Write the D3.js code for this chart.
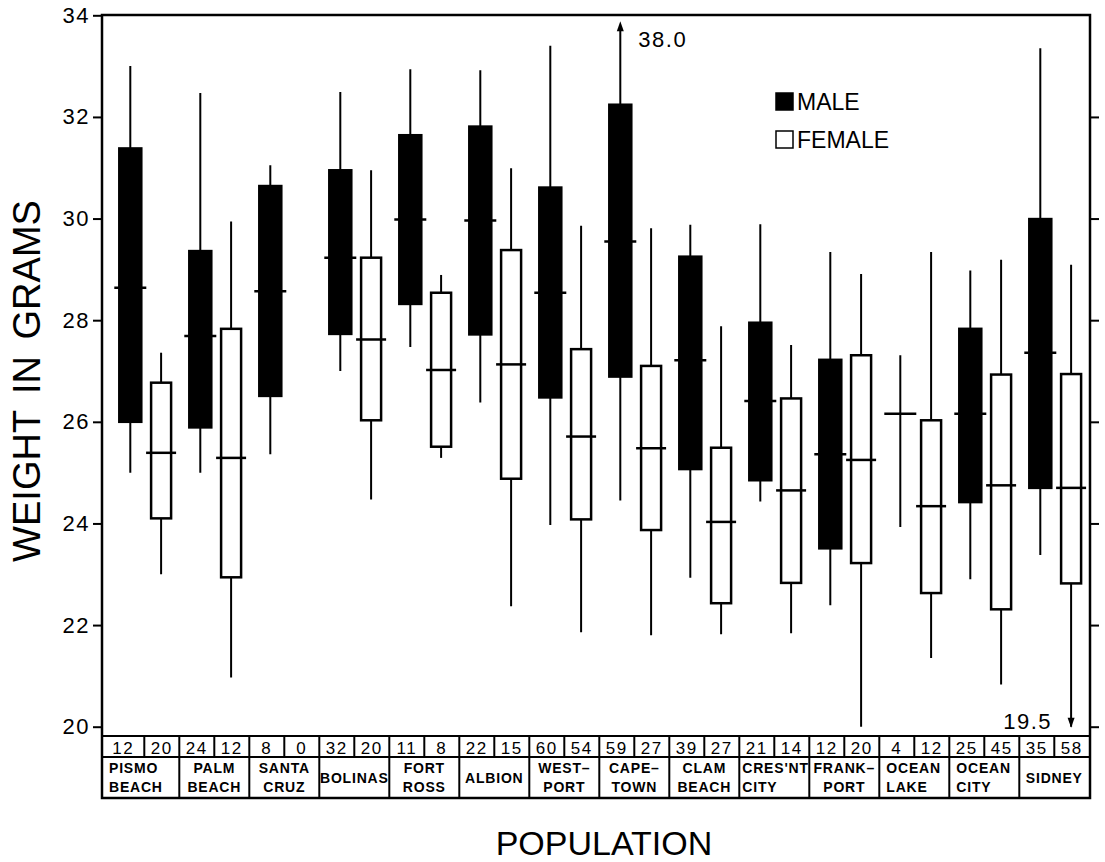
<!DOCTYPE html>
<html>
<head>
<meta charset="utf-8">
<script src="https://cdn.jsdelivr.net/npm/d3@7"></script>
<style>
  body { margin: 0; background: #fff; }
  svg text { font-family: "Liberation Sans", Arial, sans-serif; fill: #000; }
</style>
</head>
<body>
<div id="chart"></div>
<script>
// populations and their two-line table labels
var populations = ["PISMO BEACH", "PALM BEACH", "SANTA CRUZ", "BOLINAS", "FORT ROSS", "ALBION",
  "WEST-PORT", "CAPE-TOWN", "CLAM BEACH", "CRES'NT CITY", "FRANK-PORT", "OCEAN LAKE", "OCEAN CITY", "SIDNEY"];
var nameLines = [["PISMO", "BEACH"], ["PALM", "BEACH"], ["SANTA", "CRUZ"], ["BOLINAS"], ["FORT", "ROSS"],
  ["ALBION"], ["WEST–", "PORT"], ["CAPE–", "TOWN"], ["CLAM", "BEACH"], ["CRES'NT", "CITY"],
  ["FRANK–", "PORT"], ["OCEAN", "LAKE"], ["OCEAN", "CITY"], ["SIDNEY"]];

// sample sizes
var maleN   = [12, 24, 8, 32, 11, 22, 60, 59, 39, 21, 12, 4, 25, 35];
var femaleN = [20, 12, 0, 20, 8, 15, 54, 27, 27, 14, 20, 12, 45, 58];

// male weights (g)
var maleMin = [25.0, 25.0, 25.36, 27.0, 27.47, 26.38, 23.97, 24.45, 22.93, 24.43, 22.39, 23.93, 22.90, 23.38];
var maleQ1  = [26.0, 25.89, 26.51, 27.73, 28.32, 27.72, 26.48, 26.89, 25.07, 24.85, 23.51, null, 24.42, 24.70];
var maleMed = [28.64, 27.69, 28.57, 29.23, 29.98, 29.96, 28.54, 29.55, 27.21, 26.41, 25.36, 26.16, 26.16, 27.36];
var maleQ3  = [31.38, 29.36, 30.64, 30.95, 31.64, 31.81, 30.61, 32.24, 29.25, 27.95, 27.22, null, 27.83, 29.99];
var maleMax = [33.0, 32.47, 31.05, 32.49, 32.94, 32.92, 33.4, 38.0, 29.88, 29.89, 29.34, 27.31, 28.98, 33.35];

// female weights (g)
var femaleMin = [23.0, 20.97, null, 24.47, 25.29, 22.37, 21.86, 21.80, 21.82, 21.84, 20.0, 21.35, 20.83, 19.5];
var femaleQ1  = [24.10, 22.94, null, 26.03, 25.51, 24.88, 24.08, 23.87, 22.43, 22.83, 23.22, 22.63, 22.31, 22.82];
var femaleMed = [25.39, 25.29, null, 27.62, 27.02, 27.13, 25.71, 25.48, 24.03, 24.65, 25.25, 24.34, 24.75, 24.70];
var femaleQ3  = [26.77, 27.83, null, 29.23, 28.54, 29.38, 27.43, 27.10, 25.49, 26.46, 27.31, 26.03, 26.93, 26.94];
var femaleMax = [27.36, 29.94, null, 30.95, 28.89, 30.99, 29.86, 29.81, 27.88, 27.51, 28.91, 29.34, 29.19, 29.09];

var yTicks = [20, 22, 24, 26, 28, 30, 32, 34];

var W = 1105, H = 862;
var frameL = 102, frameR = 1090, frameT = 15, frameB = 736;
var rowMid = 757, rowBot = 798;

var svg = d3.select("#chart").append("svg").attr("width", W).attr("height", H);

var x = d3.scaleBand().domain(populations).range([109.3, 1089.3]);
var bw = x.bandwidth();
var sex = d3.scalePoint().domain(["M", "F"]).range([0.30 * bw, 0.74 * bw]);
var y = d3.scaleLinear().domain([20, 34]).range([726.7, 15.3]);

// build box records
var boxes = [];
populations.forEach(function(p, i) {
  boxes.push({pop: p, sex: "M", n: maleN[i], min: maleMin[i], q1: maleQ1[i], med: maleMed[i], q3: maleQ3[i], max: maleMax[i]});
  boxes.push({pop: p, sex: "F", n: femaleN[i], min: femaleMin[i], q1: femaleQ1[i], med: femaleMed[i], q3: femaleQ3[i], max: femaleMax[i]});
});
var shown = boxes.filter(function(d) { return d.med != null; });

// axes
var yl = svg.append("g").attr("transform", "translate(" + frameL + ",0)")
  .call(d3.axisLeft(y).tickValues(yTicks).tickSize(9).tickPadding(3).tickFormat(d3.format("d")));
yl.select(".domain").remove();
yl.selectAll("line").attr("stroke-width", 2);
yl.selectAll("text").style("font-size", "22px").style("letter-spacing", "1.5px").attr("font-family", null);

var yr = svg.append("g").attr("transform", "translate(" + frameR + ",0)")
  .call(d3.axisRight(y).tickValues(yTicks.slice(0, -1)).tickSize(9).tickFormat(""));
yr.select(".domain").remove();
yr.selectAll("line").attr("stroke-width", 2);

// frame
svg.append("rect")
  .attr("x", frameL).attr("y", frameT)
  .attr("width", frameR - frameL).attr("height", rowBot - frameT)
  .attr("fill", "none").attr("stroke", "#000").attr("stroke-width", 2.5);

// table lines
[frameB, rowMid].forEach(function(yy) {
  svg.append("line").attr("x1", frameL).attr("x2", frameR).attr("y1", yy).attr("y2", yy)
    .attr("stroke", "#000").attr("stroke-width", 2.2);
});
populations.forEach(function(p, i) {
  if (i > 0) {
    svg.append("line").attr("x1", x(p)).attr("x2", x(p)).attr("y1", frameB).attr("y2", rowBot)
      .attr("stroke", "#000").attr("stroke-width", 2);
  }
  var mid = x(p) + bw / 2;
  svg.append("line").attr("x1", mid).attr("x2", mid).attr("y1", frameB).attr("y2", rowMid)
    .attr("stroke", "#000").attr("stroke-width", 2);
});

function cellStart(p, i) { return i === 0 ? frameL : x(p); }

// sample size numbers
populations.forEach(function(p, i) {
  var s = cellStart(p, i), m = x(p) + bw / 2, e = x(p) + bw;
  [[maleN[i], (s + m) / 2], [femaleN[i], (m + e) / 2]].forEach(function(c) {
    svg.append("text").attr("x", c[1]).attr("y", 754)
      .attr("text-anchor", "middle")
      .style("font-size", "17px").style("letter-spacing", "1.5px")
      .text(c[0]);
  });
});

// population names
var leftAligned = {"PISMO BEACH": 1, "OCEAN LAKE": 1, "OCEAN CITY": 1, "CRES'NT CITY": 1};
populations.forEach(function(p, i) {
  var lines = nameLines[i];
  var left = leftAligned[p];
  var tx = left ? cellStart(p, i) + (p === "CRES'NT CITY" ? 3 : 7) : x(p) + bw / 2;
  var ys = lines.length === 2 ? [773, 792] : [783];
  lines.forEach(function(t, k) {
    svg.append("text").attr("x", tx).attr("y", ys[k])
      .attr("text-anchor", left ? "start" : "middle")
      .style("font-size", "14px").style("font-weight", "bold").style("letter-spacing", "0.8px")
      .text(t);
  });
});

// boxes
var g = svg.append("g");
function cx(d) { return x(d.pop) + sex(d.sex); }
function bwid(d) { return d.sex === "M" ? 22 : 20; }
var yMin = y.domain()[0], yMax = y.domain()[1];
function whiskTop(d) { return d.max > yMax ? y(yMax) + 12 : y(d.max); }
function whiskBot(d) { return d.min < yMin ? y(yMin) : y(d.min); }

g.selectAll(".whisker").data(shown).enter().append("line")
  .attr("x1", cx).attr("x2", cx)
  .attr("y1", whiskTop).attr("y2", whiskBot)
  .attr("stroke", "#000").attr("stroke-width", 2);

g.selectAll(".box").data(shown.filter(function(d) { return d.q1 != null; })).enter().append("rect")
  .attr("x", function(d) { return cx(d) - bwid(d) / 2; })
  .attr("width", bwid)
  .attr("y", function(d) { return y(d.q3); })
  .attr("height", function(d) { return y(d.q1) - y(d.q3); })
  .attr("fill", function(d) { return d.sex === "M" ? "#000" : "#fff"; })
  .attr("stroke", "#000").attr("stroke-width", 2.5);

g.selectAll(".median").data(shown).enter().append("line")
  .attr("x1", function(d) { return cx(d) - bwid(d) / 2 - 5; })
  .attr("x2", function(d) { return cx(d) + bwid(d) / 2 + 5; })
  .attr("y1", function(d) { return y(d.med); }).attr("y2", function(d) { return y(d.med); })
  .attr("stroke", "#000").attr("stroke-width", 2.5);

// off-scale arrows and values
shown.filter(function(d) { return d.max > yMax; }).forEach(function(d) {
  var t = whiskTop(d), c = cx(d);
  g.append("path").attr("d", "M" + c + "," + (t - 6) + "L" + (c - 3.5) + "," + (t + 4) + "L" + (c + 3.5) + "," + (t + 4) + "Z");
  g.append("text").attr("x", c + 18).attr("y", 47).style("font-size", "22px").style("letter-spacing", "1.5px")
    .text(d.max.toFixed(1));
});
shown.filter(function(d) { return d.min < yMin; }).forEach(function(d) {
  var t = whiskBot(d), c = cx(d);
  g.append("path").attr("d", "M" + c + "," + (t + 1) + "L" + (c - 3.5) + "," + (t - 9) + "L" + (c + 3.5) + "," + (t - 9) + "Z");
  g.append("text").attr("x", c - 19).attr("y", t + 2).attr("text-anchor", "end")
    .style("font-size", "22px").style("letter-spacing", "1.5px")
    .text(d.min.toFixed(1));
});

// legend
var leg = svg.append("g").attr("transform", "translate(775,93)");
[["MALE", "#000"], ["FEMALE", "#fff"]].forEach(function(l, k) {
  leg.append("rect").attr("x", 1).attr("y", k * 38).attr("width", 17).attr("height", 17)
    .attr("fill", l[1]).attr("stroke", "#000").attr("stroke-width", 1.5);
  leg.append("text").attr("x", 22).attr("y", k * 38 + 17)
    .style("font-size", "23px").text(l[0]);
});

// axis titles
svg.append("text")
  .attr("transform", "translate(40,381) rotate(-90)")
  .attr("text-anchor", "middle")
  .style("font-size", "38px").style("word-spacing", "6px")
  .text("WEIGHT IN GRAMS");

svg.append("text")
  .attr("x", 604).attr("y", 855)
  .attr("text-anchor", "middle")
  .style("font-size", "34px")
  .text("POPULATION");
</script>
</body>
</html>
